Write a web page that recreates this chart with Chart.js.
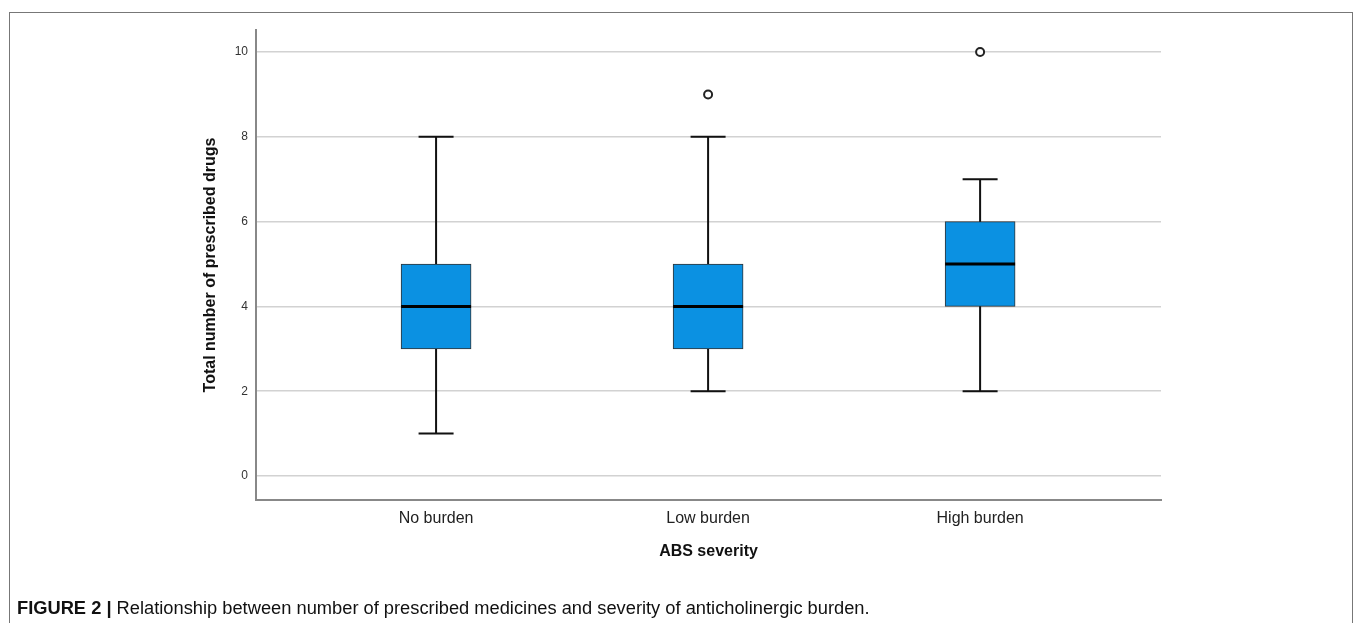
<!DOCTYPE html>
<html>
<head>
<meta charset="utf-8">
<script src="https://cdn.jsdelivr.net/npm/chart.js@4.4.0/dist/chart.umd.min.js"></script>
<style>
  body { margin: 0; background: #fff; font-family: Arial, "Liberation Sans", sans-serif; }
  #frame { position: absolute; left: 9px; top: 12px; width: 1344px; height: 700px; border: 1.5px solid #777; box-sizing: border-box; pointer-events: none; }
  #wrap { position: absolute; left: 0; top: 0; width: 1355px; height: 623px; }
  #caption { position: absolute; left: 17px; top: 597px; font-size: 18.3px; line-height: 22px; color: #111; white-space: nowrap; }
  #caption b { font-weight: bold; }
</style>
</head>
<body>
<div id="frame"></div>
<div id="wrap"><canvas id="boxChart" width="1355" height="623"></canvas></div>
<div id="caption"><b>FIGURE 2 |</b> Relationship between number of prescribed medicines and severity of anticholinergic burden.</div>
<script>
const categories = ['No burden', 'Low burden', 'High burden'];
const whiskerLow = [1, 2, 2];
const quartile1 = [3, 3, 4];
const medians = [4, 4, 5];
const quartile3 = [5, 5, 6];
const whiskerHigh = [8, 8, 7];
const outliers = [{ x: 1, y: 9 }, { x: 2, y: 10 }];
const yTicks = [0, 2, 4, 6, 8, 10];

const boxColor = '#0b91e2';

// whiskers behind the boxes, medians on top
const boxPlotLines = {
    id: 'boxPlotLines',
    beforeDatasetsDraw(chart) {
        const { ctx, scales: { x, y } } = chart;
        ctx.save();
        ctx.strokeStyle = '#111';
        ctx.lineWidth = 2;
        categories.forEach((c, i) => {
            const cx = x.getPixelForValue(i);
            ctx.beginPath();
            ctx.moveTo(cx, y.getPixelForValue(whiskerLow[i]));
            ctx.lineTo(cx, y.getPixelForValue(whiskerHigh[i]));
            ctx.moveTo(cx - 17.5, y.getPixelForValue(whiskerLow[i]));
            ctx.lineTo(cx + 17.5, y.getPixelForValue(whiskerLow[i]));
            ctx.moveTo(cx - 17.5, y.getPixelForValue(whiskerHigh[i]));
            ctx.lineTo(cx + 17.5, y.getPixelForValue(whiskerHigh[i]));
            ctx.stroke();
        });
        ctx.restore();
    },
    afterDatasetsDraw(chart) {
        const { ctx, scales: { x, y } } = chart;
        const meta = chart.getDatasetMeta(0);
        ctx.save();
        ctx.strokeStyle = '#000';
        ctx.lineWidth = 3;
        categories.forEach((c, i) => {
            const bar = meta.data[i];
            const half = bar.width / 2;
            const my = y.getPixelForValue(medians[i]);
            ctx.beginPath();
            ctx.moveTo(bar.x - half, my);
            ctx.lineTo(bar.x + half, my);
            ctx.stroke();
        });
        ctx.restore();
    }
};

const ctx = document.getElementById('boxChart').getContext('2d');

const boxChart = new Chart(ctx, {
    type: 'bar',
    data: {
        datasets: [
            {
                type: 'bar',
                data: categories.map((c, i) => ({ x: i, y: [quartile1[i], quartile3[i]] })),
                backgroundColor: boxColor,
                borderColor: '#333',
                borderWidth: 1,
                borderSkipped: false,
                barThickness: 70
            },
            {
                type: 'scatter',
                data: outliers,
                pointRadius: 4,
                pointBorderWidth: 2,
                pointBackgroundColor: '#fff',
                pointBorderColor: '#222'
            }
        ]
    },
    options: {
        responsive: false,
        animation: false,
        layout: {
            padding: { left: 196, right: 194, top: 30, bottom: 53 }
        },
        plugins: {
            legend: { display: false },
            tooltip: { enabled: false }
        },
        scales: {
            x: {
                type: 'linear',
                offset: false,
                min: -0.662,
                max: 2.665,
                afterBuildTicks(scale) {
                    scale.ticks = categories.map((c, i) => ({ value: i }));
                },
                afterFit(scale) { scale.height = 70; },
                ticks: {
                    callback: (v) => categories[v],
                    color: '#222',
                    padding: 9,
                    font: { family: 'Arial, "Liberation Sans"', size: 16 }
                },
                grid: { display: false, drawTicks: false },
                border: { display: true, color: '#888', width: 2 },
                title: {
                    display: true,
                    text: 'ABS severity',
                    color: '#111',
                    padding: { top: 4, bottom: 9 },
                    font: { family: 'Arial, "Liberation Sans"', size: 16, weight: 'bold' }
                }
            },
            y: {
                min: -0.566,
                max: 10.52,
                afterBuildTicks(scale) {
                    scale.ticks = yTicks.map(v => ({ value: v }));
                },
                afterFit(scale) { scale.width = 60; },
                ticks: {
                    color: '#333',
                    padding: 8,
                    font: { family: 'Arial, "Liberation Sans"', size: 12 }
                },
                grid: { color: '#d2d2d2', lineWidth: 1.5, drawTicks: false },
                border: { display: true, color: '#888', width: 2 },
                title: {
                    display: true,
                    text: 'Total number of prescribed drugs',
                    color: '#111',
                    padding: { top: 5, bottom: 4 },
                    font: { family: 'Arial, "Liberation Sans"', size: 16, weight: 'bold' }
                }
            }
        }
    },
    plugins: [boxPlotLines]
});
</script>
</body>
</html>
